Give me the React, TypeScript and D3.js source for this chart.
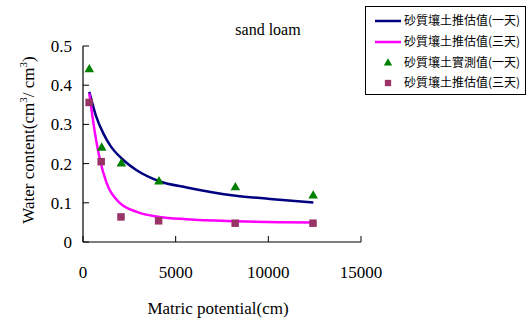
import React from 'react';
import * as d3 from 'd3';

// measured points (matric potential cm, water content)
const measuredDay1: [number, number][] = [
  [340, 0.44], [1010, 0.24], [2070, 0.2], [4100, 0.154], [8220, 0.139], [12420, 0.118],
];
const estimatedDay3Points: [number, number][] = [
  [330, 0.356], [980, 0.205], [2050, 0.064], [4080, 0.054], [8210, 0.048], [12410, 0.048],
];
// fitted curves
const curveDay1: [number, number][] = [
  [340, 0.383], [700, 0.322], [1096, 0.277], [1500, 0.244], [2087, 0.213], [2897, 0.183],
  [4120, 0.155], [5596, 0.139], [8240, 0.118], [10090, 0.11], [12430, 0.101],
];
const curveDay3: [number, number][] = [
  [340, 0.379], [648, 0.277], [917, 0.209], [1277, 0.15], [2000, 0.099], [2897, 0.077],
  [4120, 0.064], [5596, 0.058], [8240, 0.053], [12430, 0.05],
];
const xTicks = [0, 5000, 10000, 15000];
const yTicks = [0, 0.1, 0.2, 0.3, 0.4, 0.5];
const legendLabels = [
  '砂質壤土推估值(一天)',
  '砂質壤土推估值(三天)',
  '砂質壤土實測值(一天)',
  '砂質壤土推估值(三天)',
];

const serif = '"Liberation Serif", "DejaVu Serif", serif';
const cjk = '"Noto Sans CJK TC", sans-serif';

export default function App() {
  const x = d3.scaleLinear().domain([0, 15000]).range([83, 361]);
  const y = d3.scaleLinear().domain([0, 0.5]).range([242, 46]);

  const line = d3.line<[number, number]>()
    .x(d => x(d[0]))
    .y(d => y(d[1]))
    .curve(d3.curveMonotoneX);

  const tri = d3.symbol().type(d3.symbolTriangle).size(40)();
  const sq = d3.symbol().type(d3.symbolSquare).size(56)();

  return (
    <svg width={527} height={322} style={{ position: 'absolute', left: 0, top: 0, background: '#fff' }}>
      {/* title */}
      <text x={268} y={35} textAnchor="middle" fontFamily={serif} fontSize={16}>sand loam</text>

      {/* axes */}
      <line x1={x(0)} x2={x(0)} y1={y(0)} y2={y(0.5)} stroke="#666" strokeWidth={2} />
      <line x1={x(0)} x2={x(15000)} y1={y(0)} y2={y(0)} stroke="#000" strokeWidth={1} />
      {yTicks.map(t => (
        <g key={t}>
          <line x1={x(0)} x2={x(0) + 6} y1={y(t)} y2={y(t)} stroke="#000" />
          <text x={72} y={y(t) + 6} textAnchor="end" fontFamily={serif} fontSize={17}>{t}</text>
        </g>
      ))}
      {xTicks.map(t => (
        <g key={t}>
          <line x1={x(t)} x2={x(t)} y1={y(0)} y2={y(0) - 6} stroke="#000" />
          <text x={x(t)} y={278} textAnchor="middle" fontFamily={serif} fontSize={17}>{t}</text>
        </g>
      ))}

      {/* axis labels */}
      <text x={218} y={314} textAnchor="middle" fontFamily={serif} fontSize={17}>Matric potential(cm)</text>
      <text transform="translate(34,140) rotate(-90)" textAnchor="middle" fontFamily={serif} fontSize={17}>
        Water content(cm<tspan dy={-7} fontSize={11}>3</tspan><tspan dy={7}>/ cm</tspan><tspan dy={-7} fontSize={11}>3</tspan><tspan dy={7}>)</tspan>
      </text>

      {/* curves */}
      <path d={line(curveDay1) || ''} fill="none" stroke="#000080" strokeWidth={2.5} />
      <path d={line(curveDay3) || ''} fill="none" stroke="#ff00ff" strokeWidth={2.5} />

      {/* points */}
      {measuredDay1.map((d, i) => (
        <path key={'t' + i} d={tri || ''} transform={`translate(${x(d[0])},${y(d[1])})`} fill="#008000" />
      ))}
      {estimatedDay3Points.map((d, i) => (
        <path key={'s' + i} d={sq || ''} transform={`translate(${x(d[0])},${y(d[1])})`} fill="#993366" />
      ))}

      {/* legend */}
      <rect x={365.5} y={6.5} width={160} height={88} fill="#fff" stroke="#000" />
      <line x1={375} x2={401} y1={21} y2={21} stroke="#000080" strokeWidth={2.5} />
      <line x1={375} x2={401} y1={42} y2={42} stroke="#ff00ff" strokeWidth={2.5} />
      <path d={d3.symbol().type(d3.symbolTriangle).size(30)() || ''} transform="translate(388,63)" fill="#008000" />
      <path d={d3.symbol().type(d3.symbolSquare).size(40)() || ''} transform="translate(388,83)" fill="#993366" />
      {legendLabels.map((l, i) => (
        <text key={i} x={404} y={[21, 42, 63, 83][i] + 4} fontFamily={cjk} fontSize={12}>{l}</text>
      ))}
    </svg>
  );
}
